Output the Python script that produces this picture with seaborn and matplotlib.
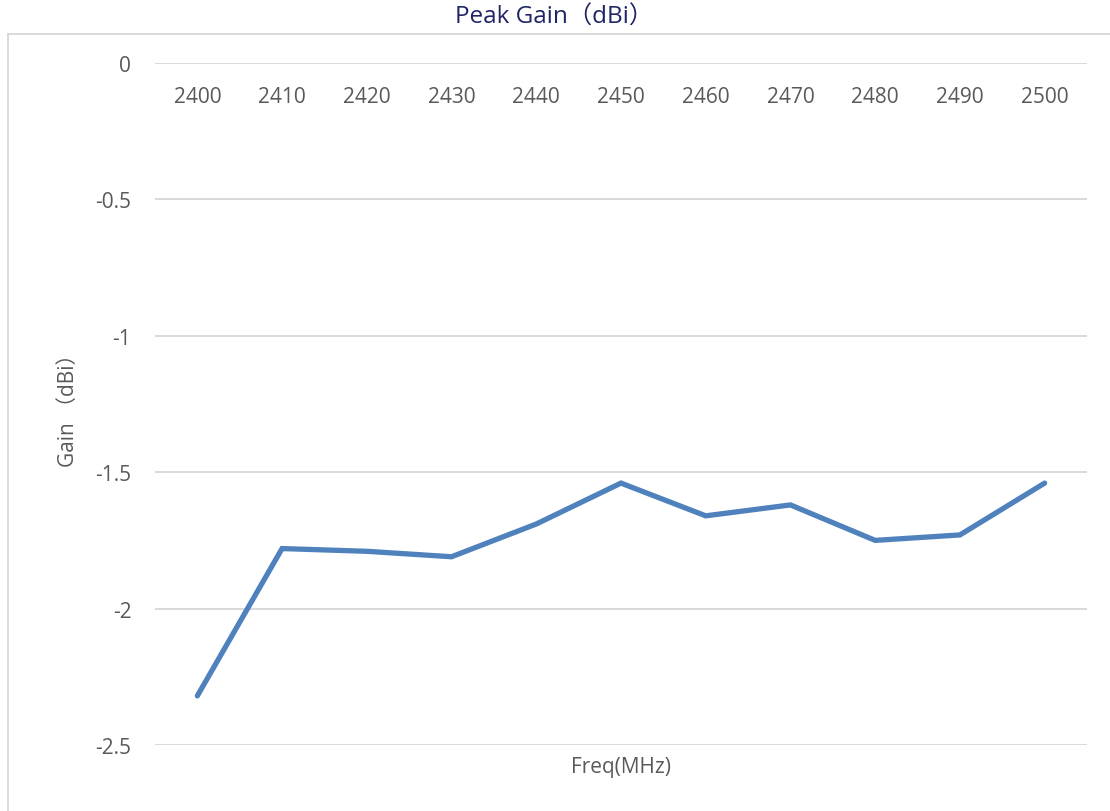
import matplotlib
matplotlib.use("Agg")
import matplotlib.pyplot as plt
import seaborn as sns
import pandas as pd
from matplotlib.patches import Rectangle

# Dados do gráfico
freq = ["2400", "2410", "2420", "2430", "2440", "2450",
        "2460", "2470", "2480", "2490", "2500"]
gain = [-2.32, -1.78, -1.79, -1.81, -1.69, -1.54,
        -1.66, -1.62, -1.75, -1.73, -1.54]
yticks = [0, -0.5, -1, -1.5, -2, -2.5]
ytick_labels = ["0", "-0.5", "-1", "-1.5", "-2", "-2.5"]

df = pd.DataFrame({"freq": freq, "gain": gain})

sns.set_theme(style="white")
plt.rcParams["font.family"] = ["Open Sans", "Noto Sans CJK SC", "DejaVu Sans"]

fig = plt.figure(figsize=(11.1, 8.12), dpi=100)
ax = fig.add_axes([0.1396, 0.0813, 0.8397, 0.8399])

sns.lineplot(data=df, x="freq", y="gain", ax=ax, color="#4F81BD",
             linewidth=3.8, solid_capstyle="round", solid_joinstyle="miter",
             sort=False)

ax.set_xlim(-0.5, len(freq) - 0.5)
ax.set_ylim(-2.5, 0)
ax.set_yticks(yticks)
ax.set_yticklabels(ytick_labels)
ax.grid(axis="y", color="#D9D9D9", linewidth=1.4)
ax.grid(axis="x", visible=False)
for s in ax.spines.values():
    s.set_visible(False)

# rótulos do eixo x logo abaixo da linha do zero
ax.tick_params(axis="x", top=False, bottom=False, labeltop=True,
               labelbottom=False, pad=-38, labelsize=15, labelcolor="#595959")
ax.tick_params(axis="y", left=False, pad=11, labelsize=15, labelcolor="#595959")

ax.set_xlabel("Freq(MHz)", fontsize=15, color="#595959", labelpad=8)
ax.set_ylabel("Gain （dBi）", fontsize=15, color="#595959", labelpad=12)

fig.text(0.499, 0.978, "Peak Gain（dBi）", ha="center", va="center",
         fontsize=17.5, color="#1F2466")

# moldura do gráfico
fig.patches.append(Rectangle((8 / 1110, -0.1), 1.2, 0.1 + 1 - 35 / 812,
                             transform=fig.transFigure, fill=False,
                             edgecolor="#D9D9D9", linewidth=1.4))

fig.savefig("out.png", dpi=100)
